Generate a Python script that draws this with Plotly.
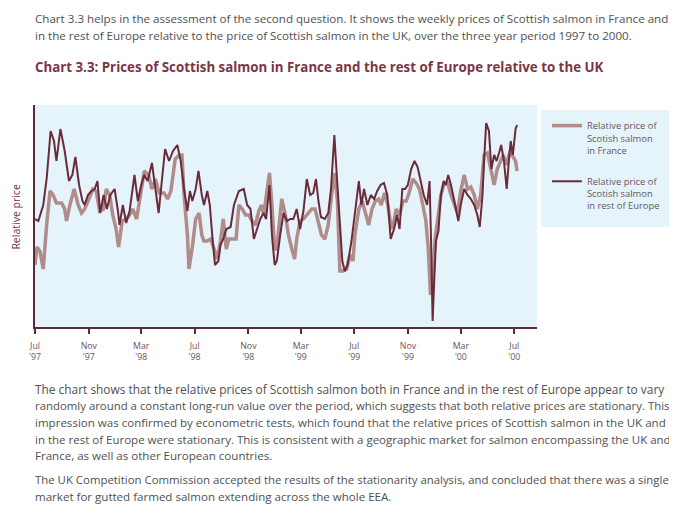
import numpy as np
import pandas as pd
import plotly.graph_objects as go

# ---- data (weeks since 1 Jul 1997, relative price) ----
weeks_eu = [0.0, 1.1, 2.7, 3.8, 5.1, 6.2, 7.0, 8.3, 9.7, 11.1,
            12.2, 13.2, 14.4, 15.5, 16.2, 17.3, 18.4, 19.5, 20.4, 21.3,
            22.4, 23.5, 24.6, 26.0, 27.1, 27.6, 28.7, 29.8, 30.9, 32.5,
            33.6, 34.7, 35.7, 36.8, 38.2, 39.3, 40.4, 41.5, 42.5, 43.8,
            45.1, 46.5, 47.6, 48.7, 49.8, 50.6, 51.4, 52.5, 53.4, 54.5,
            55.2, 56.3, 57.1, 57.9, 58.8, 59.9, 60.6, 61.5, 62.5, 63.9,
            65.0, 66.6, 68.2, 69.3, 70.4, 71.5, 72.5, 73.6, 74.7, 75.5,
            76.6, 77.4, 78.3, 79.0, 80.1, 81.2, 82.3, 83.4, 84.4, 85.5,
            86.6, 87.7, 88.8, 89.9, 90.9, 91.8, 92.6, 93.4, 94.7, 95.8,
            96.7, 97.8, 98.5, 99.6, 100.4, 101.2, 102.1, 103.4, 104.5, 105.8,
            106.6, 107.5, 108.6, 109.7, 110.8, 111.8, 112.9, 114.0, 115.1, 116.2,
            117.3, 118.3, 119.1, 120.0, 120.9, 121.8, 122.9, 124.0, 125.0, 126.1,
            127.0, 128.1, 128.9, 129.4, 129.9, 130.5, 131.0, 131.8, 132.6, 133.5,
            134.2, 135.0, 135.9, 137.0, 138.3, 139.1, 140.2, 141.3, 142.4, 143.5,
            144.5, 145.3, 146.2, 146.7, 147.4, 148.3, 149.1, 150.0, 150.8, 151.6,
            152.3, 153.2, 154.1, 154.8, 155.4, 156.1, 157.0, 157.5]
rel_eu = [1.04, 1.03, 1.11, 1.24, 1.48, 1.43, 1.33, 1.49, 1.38, 1.23,
          1.26, 1.35, 1.21, 1.13, 1.11, 1.16, 1.18, 1.19, 1.23, 1.07,
          1.16, 1.09, 1.16, 1.19, 1.08, 1.01, 1.11, 1.02, 1.08, 1.26,
          1.13, 1.21, 1.26, 1.23, 1.32, 1.19, 1.07, 1.24, 1.39, 1.33,
          1.38, 1.41, 1.33, 1.19, 1.08, 1.18, 1.13, 1.19, 1.28, 1.16,
          1.11, 1.18, 1.11, 0.96, 0.81, 0.83, 0.91, 0.94, 0.99, 1.00,
          1.11, 1.18, 1.19, 1.11, 1.09, 0.94, 0.99, 1.04, 1.07, 1.04,
          1.21, 0.96, 0.81, 0.83, 0.96, 1.07, 1.03, 1.04, 1.04, 1.09,
          0.99, 1.08, 1.24, 1.16, 1.17, 1.24, 1.13, 1.05, 1.04, 1.07,
          1.19, 1.46, 1.28, 1.03, 0.83, 0.78, 0.81, 0.93, 1.06, 1.23,
          1.11, 1.19, 1.11, 1.16, 1.14, 1.18, 1.21, 1.22, 1.16, 0.94,
          0.99, 1.06, 0.99, 1.19, 1.19, 1.21, 1.29, 1.33, 1.30, 1.23,
          1.16, 1.11, 1.23, 0.93, 0.53, 0.76, 0.93, 0.98, 1.16, 1.23,
          1.21, 1.26, 1.21, 1.13, 1.03, 1.11, 1.19, 1.16, 1.14, 1.11,
          1.06, 1.00, 1.16, 1.33, 1.52, 1.48, 1.29, 1.36, 1.33, 1.37,
          1.41, 1.33, 1.19, 1.33, 1.43, 1.36, 1.49, 1.51]

weeks_fr = [0.0, 0.6, 1.6, 2.7, 3.8, 4.9, 5.9, 7.0, 8.7, 9.7,
            10.3, 11.4, 12.8, 14.1, 15.2, 16.2, 17.6, 18.9, 20.0, 21.1,
            22.4, 23.3, 24.4, 25.4, 26.5, 27.3, 28.5, 29.8, 30.9, 31.9,
            33.2, 34.7, 35.7, 37.1, 38.2, 39.3, 40.6, 42.2, 43.3, 44.4,
            45.8, 47.1, 48.0, 48.7, 49.8, 50.3, 51.4, 52.5, 53.6, 54.5,
            55.2, 56.3, 57.4, 58.5, 59.5, 60.6, 61.5, 62.5, 63.3, 64.4,
            65.7, 66.6, 67.7, 68.8, 69.8, 70.9, 72.0, 73.1, 74.0, 74.7,
            75.5, 76.6, 77.4, 78.3, 79.0, 79.8, 80.6, 81.8, 82.8, 83.9,
            84.8, 85.5, 86.6, 87.7, 88.8, 90.4, 91.5, 92.6, 93.6, 94.7,
            95.8, 96.9, 98.0, 98.8, 99.6, 100.7, 101.8, 102.9, 103.9, 104.5,
            105.8, 106.9, 107.9, 109.0, 110.1, 111.2, 112.3, 113.1, 114.2, 115.3,
            116.4, 117.3, 118.0, 119.1, 120.2, 121.3, 122.4, 123.4, 124.5, 125.6,
            126.7, 127.7, 128.5, 129.2, 129.9, 130.7, 131.5, 132.6, 133.7, 134.8,
            135.9, 137.0, 138.0, 139.1, 140.2, 141.3, 142.4, 143.5, 144.5, 145.6,
            146.7, 147.8, 148.9, 150.0, 151.0, 151.9, 153.0, 154.1, 155.2, 156.2,
            157.0, 157.5]
rel_fr = [0.81, 0.90, 0.88, 0.79, 1.01, 1.18, 1.16, 1.12, 1.12, 1.09,
          1.03, 1.11, 1.19, 1.11, 1.07, 1.09, 1.14, 1.19, 1.18, 1.08,
          1.09, 1.19, 1.16, 1.06, 0.99, 0.90, 1.03, 1.04, 1.06, 1.09,
          1.04, 1.19, 1.28, 1.26, 1.19, 1.24, 1.17, 1.17, 1.14, 1.18,
          1.34, 1.36, 1.36, 1.16, 0.96, 0.79, 0.90, 1.04, 1.07, 0.96,
          0.93, 0.93, 0.94, 0.89, 0.84, 0.93, 1.04, 0.89, 0.94, 0.94,
          0.94, 1.11, 1.09, 1.06, 1.06, 1.03, 1.01, 1.08, 1.11, 1.06,
          1.14, 1.27, 1.11, 0.89, 0.89, 1.03, 1.14, 1.06, 0.96, 0.89,
          0.84, 0.94, 1.03, 1.04, 1.06, 1.09, 1.09, 1.03, 0.96, 0.94,
          1.01, 1.16, 1.27, 1.13, 0.78, 0.78, 0.79, 0.86, 0.83, 0.96,
          1.09, 1.13, 1.08, 1.01, 1.09, 1.13, 1.14, 1.11, 1.17, 1.11,
          0.99, 1.03, 1.09, 1.06, 1.13, 1.13, 1.18, 1.24, 1.22, 1.19,
          1.11, 1.03, 0.89, 0.66, 0.73, 0.94, 1.03, 1.16, 1.22, 1.22,
          1.16, 1.11, 1.07, 1.18, 1.26, 1.19, 1.20, 1.16, 1.09, 1.16,
          1.36, 1.37, 1.29, 1.21, 1.29, 1.32, 1.36, 1.31, 1.38, 1.35,
          1.33, 1.28]

tick_dates = ["1997-07-01", "1997-11-01", "1998-03-01", "1998-07-01", "1998-11-01",
              "1999-03-01", "1999-07-01", "1999-11-01", "2000-03-01", "2000-07-01"]
tick_labels = ["Jul<br>'97", "Nov<br>'97", "Mar<br>'98", "Jul<br>'98", "Nov<br>'98",
               "Mar<br>'99", "Jul<br>'99", "Nov<br>'99", "Mar<br>'00", "Jul<br>'00"]

series_names = ["Relative price of<br>Scotish salmon<br>in France",
                "Relative price of<br>Scotish salmon<br>in rest of Europe"]

top_lines = [
    "Chart 3.3 helps in the assessment of the second question. It shows the weekly prices of Scottish salmon in France and",
    "in the rest of Europe relative to the price of Scottish salmon in the UK, over the three year period 1997 to 2000.",
]
title_text = "Chart 3.3: Prices of Scottish salmon in France and the rest of Europe relative to the UK"
bottom_lines = [
    "The chart shows that the relative prices of Scottish salmon both in France and in the rest of Europe appear to vary",
    "randomly around a constant long-run value over the period, which suggests that both relative prices are stationary. This",
    "impression was confirmed by econometric tests, which found that the relative prices of Scottish salmon in the UK and",
    "in the rest of Europe were stationary. This is consistent with a geographic market for salmon encompassing the UK and",
    "France, as well as other European countries.",
    "The UK Competition Commission accepted the results of the stationarity analysis, and concluded that there was a single",
    "market for gutted farmed salmon extending across the whole EEA.",
]

BASE = pd.Timestamp("1997-07-01")


def to_dates(weeks):
    return BASE + pd.to_timedelta(np.array(weeks) * 7.0, unit="D")


# page has an 8px body margin; figure sized so it ends at the window edge
OFF = 8
W, H = 677 - OFF, 517 - OFF
PL, PR, PT, PB = 35, 540, 105, 327          # plot box in window pixels
PW, PH = PR - PL, PB - PT


def px(x):
    return (x - PL) / PW


def py(y):
    return (PB - y) / PH


FONT = "Open Sans"
BG = "#e4f4fa"
AXC = "#5e2a35"
TXT = "#505050"

fig = go.Figure()
fig.add_trace(go.Scatter(x=to_dates(weeks_fr), y=rel_fr, mode="lines",
                         name=series_names[0], legendgroup="fr",
                         line=dict(color="#b08c8a", width=3.5)))
fig.add_trace(go.Scatter(x=to_dates(weeks_eu), y=rel_eu, mode="lines",
                         name=series_names[1], legendgroup="eu",
                         line=dict(color="#6b2a3a", width=2)))

annotations = []


def add_text(text, x, y, size, color, bold=False):
    annotations.append(dict(
        text=("<b>%s</b>" % text) if bold else text,
        x=px(x), y=py(y), xref="paper", yref="paper",
        xanchor="left", yanchor="middle", showarrow=False,
        font=dict(family=FONT, size=size, color=color)))


for t, yy, sz in zip(top_lines, [18.5, 35.5], [11.6, 11.6]):
    add_text(t, 33, yy, sz, TXT)
add_text(title_text, 33, 67, 13.3, "#7b3545", bold=True)
for t, yy, sz in zip(bottom_lines,
                     [388.5, 405, 422, 439, 455.5, 480, 496.5],
                     [11.9, 11.4, 11.55, 11.5, 11.55, 11.4, 11.55]):
    add_text(t, 33, yy, sz, TXT)

annotations.append(dict(text="Relative price", x=px(15.5), y=py(217),
                        xref="paper", yref="paper", textangle=-90,
                        xanchor="center", yanchor="middle", showarrow=False,
                        font=dict(family=FONT, size=10.5, color="#6e3545")))

fig.update_layout(
    width=W, height=H,
    margin=dict(l=PL - OFF, r=W - (PR - OFF), t=PT - OFF, b=H - (PB - OFF)),
    paper_bgcolor="white", plot_bgcolor=BG,
    font=dict(family=FONT),
    showlegend=True,
    legend=dict(x=px(550), y=py(113), xanchor="left", yanchor="top",
                bgcolor="rgba(0,0,0,0)", valign="top", tracegroupgap=16,
                itemwidth=30,
                font=dict(family=FONT, size=9.4, color="#6a5560")),
    shapes=[dict(type="rect", xref="paper", yref="paper",
                 x0=px(544), x1=px(677), y0=py(227), y1=py(110),
                 fillcolor=BG, line=dict(width=0), layer="below")],
    annotations=annotations,
    xaxis=dict(type="date", range=["1997-07-01", "2000-08-22"],
               tickvals=tick_dates, ticktext=tick_labels,
               showline=True, linecolor=AXC, linewidth=2,
               ticks="outside", ticklen=5, tickwidth=1.5, tickcolor=AXC,
               ticklabelstandoff=4,
               showgrid=False, zeroline=False,
               tickfont=dict(family=FONT, size=8.8, color="#6e5258")),
    yaxis=dict(range=[0.5, 1.61], showline=True, linecolor=AXC, linewidth=2,
               showticklabels=False, ticks="", showgrid=False, zeroline=False),
)

fig.write_html("out.html")
